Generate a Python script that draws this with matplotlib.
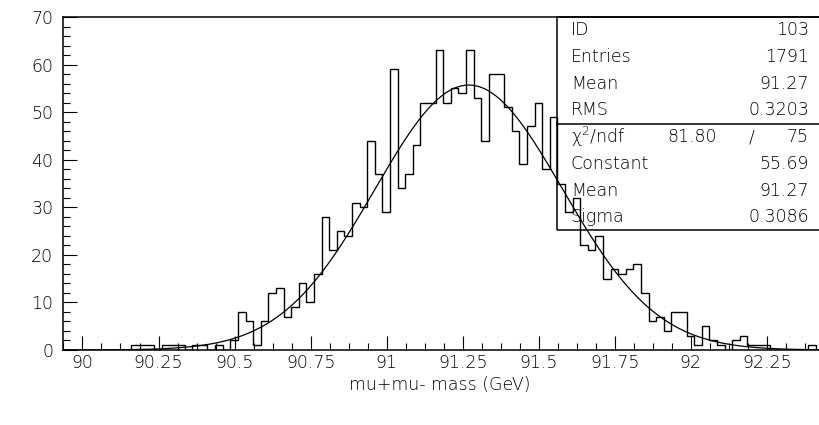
import numpy as np
import matplotlib
matplotlib.use("Agg")
import matplotlib.pyplot as plt
from matplotlib.ticker import MultipleLocator
from matplotlib.patches import Rectangle

# histogram 103: 100 bins of 0.025 GeV
x_lo = 89.936
bin_width = 0.025
counts = [0, 0, 0, 0, 0, 0, 0, 0, 0, 1,
          1, 1, 0, 1, 1, 1, 0, 1, 1, 0,
          1, 0, 2, 8, 6, 1, 6, 12, 13, 7,
          9, 14, 10, 16, 28, 21, 25, 24, 31, 30,
          44, 37, 29, 59, 34, 37, 43, 52, 52, 63,
          52, 55, 54, 63, 53, 44, 58, 58, 51, 46,
          39, 47, 52, 38, 49, 35, 29, 32, 22, 21,
          24, 15, 17, 16, 17, 18, 12, 6, 7, 4,
          8, 8, 3, 1, 5, 2, 1, 0, 2, 3,
          1, 1, 1, 0, 0, 0, 0, 0, 1, 0]

# gaussian fit results
fit_const = 55.69
fit_mean = 91.27
fit_sigma = 0.3086

stats_top = [("ID", "103"), ("Entries", "1791"), ("Mean", "91.27"), ("RMS", "0.3203")]
stats_fit = [("Constant", "55.69"), ("Mean", "91.27"), ("Sigma", "0.3086")]
chi2_val, ndf_val = "81.80", "75"

xtick_vals = [90, 90.25, 90.5, 90.75, 91, 91.25, 91.5, 91.75, 92, 92.25]

W, H = 820, 425
plt.rcParams['font.family'] = 'DejaVu Sans'
plt.rcParams['font.weight'] = 'light'
plt.rcParams['mathtext.default'] = 'regular'
fig = plt.figure(figsize=(W / 100, H / 100), dpi=100)

def fx(px):
    return px / W

def fy(py):
    return 1 - py / H

ax = fig.add_axes([fx(63), fy(350), fx(820.5) - fx(63), fy(17) - fy(350)])

edges = x_lo + bin_width * np.arange(len(counts) + 1)
ax.stairs(counts, edges, color='black', lw=1.0, baseline=0)

xs = np.linspace(x_lo, 92.45, 600)
ax.plot(xs, fit_const * np.exp(-0.5 * ((xs - fit_mean) / fit_sigma) ** 2), color='black', lw=0.9)

ax.set_xlim(x_lo, x_lo + 757 / 304)
ax.set_ylim(0, 70)

ax.set_xticks(xtick_vals)
ax.set_xticklabels(['%g' % v for v in xtick_vals])
ax.xaxis.set_minor_locator(MultipleLocator(0.0625))
ax.yaxis.set_major_locator(MultipleLocator(10))
ax.yaxis.set_minor_locator(MultipleLocator(2))
ax.tick_params(which='both', direction='in', width=0.8, labelsize=12.5)
ax.tick_params(which='major', length=10)
ax.tick_params(which='minor', length=5)
ax.tick_params(axis='x', pad=3)
ax.tick_params(axis='y', pad=7)
for s in ax.spines.values():
    s.set_linewidth(1.1)

fig.text(fx(440), fy(385), "mu+mu- mass (GeV)", ha='center', va='center', fontsize=12.5)

# stats box (not filled, histogram shows through)
fig.patches.append(Rectangle((fx(557), fy(230)), 1.0 - fx(557) + 0.01, fy(17) - fy(230),
                             transform=fig.transFigure, fill=False, lw=1.1, ec='black'))
fig.add_artist(plt.Line2D([fx(557), 1.0], [fy(124), fy(124)], transform=fig.transFigure,
                          color='black', lw=1.1))

row_h = 26.7
fs = 12.5
for i, (name, val) in enumerate(stats_top):
    yc = 17 + row_h * (i + 0.5)
    fig.text(fx(571), fy(yc), name, ha='left', va='center', fontsize=fs)
    fig.text(fx(809), fy(yc), val, ha='right', va='center', fontsize=fs)

yc = 124 + row_h * 0.5
fig.text(fx(571), fy(yc), r"$\chi^2$/ndf", ha='left', va='center', fontsize=fs)
fig.text(fx(717), fy(yc), chi2_val, ha='right', va='center', fontsize=fs)
fig.text(fx(752), fy(yc), "/", ha='center', va='center', fontsize=fs)
fig.text(fx(809), fy(yc), ndf_val, ha='right', va='center', fontsize=fs)
for i, (name, val) in enumerate(stats_fit):
    yc = 124 + row_h * (i + 1.5)
    fig.text(fx(571), fy(yc), name, ha='left', va='center', fontsize=fs)
    fig.text(fx(809), fy(yc), val, ha='right', va='center', fontsize=fs)

fig.savefig("out.png", dpi=100)
